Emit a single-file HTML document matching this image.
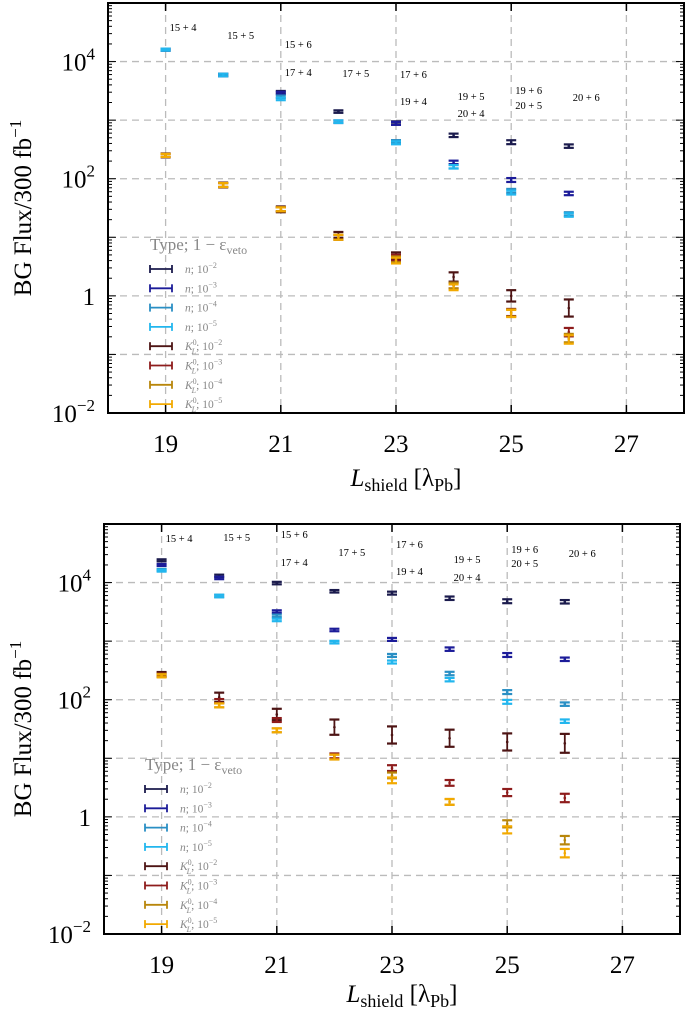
<!DOCTYPE html>
<html><head><meta charset="utf-8">
<style>
html,body{margin:0;padding:0;background:#fff;}
svg{display:block;font-family:"Liberation Serif",serif;}
</style></head>
<body>
<svg id="fig" width="685" height="1010" viewBox="0 0 685 1010" xmlns="http://www.w3.org/2000/svg"></svg>
<script>
// ---- data ----
const xCats = [19,20,21,22,23,24,25,26];
const seriesNames = ["n; 10^-2","n; 10^-3","n; 10^-4","n; 10^-5","K; 10^-2","K; 10^-3","K; 10^-4","K; 10^-5"];
const seriesColors = ["#1b1b4d","#1c1c99","#2a8fc4","#22b6ee","#4d1414","#8e1c1c","#b8860b","#f2a900"];
// top panel values
const topN2 = [16000,5900,3000,1400,900,550,420,360];
const topN3 = [16000,5900,2900,940,880,190,95,56];
const topN4 = [16000,5900,2500,940,430,160,62,25];
const topN5 = [16000,5900,2300,940,410,160,58,24];
const topK2 = [250,78,30,11,4.8,2.1,1.0,0.62];
const topK3 = [250,78,30,10,4.5,1.5,0.52,0.24];
const topK4 = [250,78,30,10,4.2,1.5,0.51,0.19];
const topK5 = [250,78,30,10,4.0,1.4,0.50,0.18];
// bottom panel values
const botN2 = [24000,13000,9800,7100,6600,5400,4800,4700];
const botN3 = [20000,12000,3200,1550,1070,730,580,490];
const botN4 = [16500,5900,2700,960,570,280,135,84];
const botN5 = [16000,5900,2300,960,440,220,92,43];
const botK2 = [270,110,56,34,25,22,19,18];
const botK3 = [265,95,45,11,6.8,3.8,2.6,2.1];
const botK4 = [260,80,30,10.5,5.1,1.8,0.76,0.40];
const botK5 = [255,80,30,10.5,4.2,1.8,0.60,0.24];
// relative errors
const errN = [0.04,0.05,0.05,0.05,0.06,0.07,0.08,0.07];
const errK2top = [0.08,0.1,0.12,0.12,0.15,0.2,0.25,0.4];
const errK2bot = [0.1,0.2,0.25,0.35,0.4,0.4,0.4,0.45];
const errK = [0.06,0.08,0.08,0.1,0.12,0.12,0.15,0.18];
const annLabels = ["15 + 4","15 + 5","15 + 6","17 + 4","17 + 5","17 + 6","19 + 4","19 + 5","20 + 4","19 + 6","20 + 5","20 + 6"];
const annX = [19,20,21,21,22,23,23,24,24,25,25,26];
const yTickVals = [-2,0,2,4];
const xTickVals = [19,21,23,25,27];

const NS="http://www.w3.org/2000/svg";
const svg=document.getElementById('fig');
function el(tag,attrs,parent){const e=document.createElementNS(NS,tag);for(const k in attrs)e.setAttribute(k,attrs[k]);(parent||svg).appendChild(e);return e;}

function panel(P){
  const g=el('g',{});
  
  
  const X=v=>P.l+(v-18)/10*(P.r-P.l);
  const Y=v=>P.b-(Math.log10(v)+2)/7*(P.b-P.t);
  const YL=lg=>P.b-(lg+2)/7*(P.b-P.t);
  for(let lg=-1;lg<=4;lg++){
    const ln=el('line',{x1:P.l,x2:P.r,y1:YL(lg),y2:YL(lg),stroke:'#bbb','stroke-width':1.3,'stroke-dasharray':'7,5'},g);
    
    
  }
  for(const xv of xTickVals){
    const ln=el('line',{x1:X(xv),x2:X(xv),y1:P.t,y2:P.b,stroke:'#bbb','stroke-width':1.3,'stroke-dasharray':'7,5'},g);
    
    
  }
  for(let lg=-2;lg<5;lg++){
    for(let m=1;m<10;m++){
      const y=P.b-(lg+2+Math.log10(m))/7*(P.b-P.t);
      const len=m===1?8:4;
      el('line',{x1:P.l,x2:P.l+len,y1:y,y2:y,stroke:'#000','stroke-width':1},g);
      el('line',{x1:P.r,x2:P.r-len,y1:y,y2:y,stroke:'#000','stroke-width':1},g);
    }
  }
  for(const xv of xTickVals){
    el('line',{x1:X(xv),x2:X(xv),y1:P.b,y2:P.b-8,stroke:'#000','stroke-width':1.5},g);
    el('line',{x1:X(xv),x2:X(xv),y1:P.t,y2:P.t+8,stroke:'#000','stroke-width':1.5},g);
    const t=el('text',{x:X(xv),y:P.b+39,'font-size':25,'text-anchor':'middle'},g);
    t.textContent=xv;
    
    
  }
  for(const lg of yTickVals){
    const t=el('text',{x:P.l-13,y:YL(lg)+9,'font-size':25,'text-anchor':'end'},g);
    
    
    if(lg===0){t.textContent='1';}
    else{t.textContent='10';const s=el('tspan',{dy:-11,'font-size':17},t);s.textContent=String(lg).replace('-','\u2212');}
  }
  annLabels.forEach((s,i)=>{
    const t=el('text',{x:X(annX[i])+4,y:P.annY[i]+4,'font-size':10.5},g);
    t.textContent=s;
    
    
  });
  P.series.forEach((vals,si)=>{
    const sg=el('g',{},g);
    
    
    vals.forEach((v,i)=>{
      const e=P.errs[si][i];
      const x=X(xCats[i]);const y1=Y(v*(1+e)),y2=Y(v/(1+e)),yc=Y(v);
      const c=seriesColors[si];
      const pt=el('g',{stroke:c,'stroke-width':1.8},sg);
      
      
      el('line',{x1:x,x2:x,y1:y1,y2:y2},pt);
      el('line',{x1:x-5,x2:x+5,y1:y1,y2:y1,'stroke-width':2.2},pt);
      el('line',{x1:x-5,x2:x+5,y1:y2,y2:y2,'stroke-width':2.2},pt);
      el('circle',{cx:x,cy:yc,r:1.3,fill:c,stroke:'none'},pt);
    });
  });
  const fr=el('rect',{x:P.l,y:P.t,width:P.r-P.l,height:P.b-P.t,fill:'none',stroke:'#000','stroke-width':2},g);
  
  
  const lg=el('g',{},g);
  
  
  const tt=el('text',{x:P.legX,y:P.legY,'font-size':17,fill:'#888'},lg);
  tt.textContent='Type; 1 \u2212 \u03b5';
  const ts=el('tspan',{dy:4,'font-size':12},tt);ts.textContent='veto';
  seriesNames.forEach((s,i)=>{
    const y=P.legY+19+i*19.3;
    const le=el('g',{},lg);
    
    
    el('line',{x1:P.legX,x2:P.legX+22,y1:y,y2:y,stroke:seriesColors[i],'stroke-width':1.8},le);
    el('line',{x1:P.legX,x2:P.legX,y1:y-4,y2:y+4,stroke:seriesColors[i],'stroke-width':1.8},le);
    el('line',{x1:P.legX+22,x2:P.legX+22,y1:y-4,y2:y+4,stroke:seriesColors[i],'stroke-width':1.8},le);
    const t=el('text',{x:P.legX+35,y:y+4,'font-size':11.5,fill:'#888'},le);
    const isK=s[0]==='K';
    const base=el('tspan',{'font-style':'italic'},t);base.textContent=isK?'K':'n';
    if(isK){const sup=el('tspan',{dy:-5,'font-size':8},t);sup.textContent='0';const sub=el('tspan',{dx:-5,dy:9,'font-size':8,'font-style':'italic'},t);sub.textContent='L';const r=el('tspan',{dy:-4},t);r.textContent='; 10';}
    else{const r=el('tspan',{},t);r.textContent='; 10';}
    const ex=el('tspan',{dy:-5,'font-size':8},t);ex.textContent='\u2212'+s.slice(-1);
  });
  const yl=el('text',{x:0,y:0,'font-size':25,'text-anchor':'middle',transform:`translate(31,${(P.t+P.b)/2}) rotate(-90)`},g);
  
  
  yl.textContent='BG Flux/300 fb';
  const ye=el('tspan',{dy:-10,'font-size':17},yl);ye.textContent='\u22121';
  const xl=el('text',{x:(P.l+P.r)/2+10,y:P.b+P.xlOff,'font-size':25,'text-anchor':'middle'},g);
  
  
  const a=el('tspan',{'font-style':'italic'},xl);a.textContent='L';
  const b=el('tspan',{dy:5,'font-size':18},xl);b.textContent='shield';
  const c=el('tspan',{dy:-5},xl);c.textContent=' [\u03bb';
  const d=el('tspan',{dy:5,'font-size':18},xl);d.textContent='Pb';
  const f=el('tspan',{dy:-5},xl);f.textContent=']';
}

panel({name:'top-panel',l:108,r:684,t:3,b:413,xlOff:73,
  series:[topN2,topN3,topN4,topN5,topK2,topK3,topK4,topK5],
  errs:[errN,errN,errN,errN,errK2top,errK,errK,errK],
  annY:[27,35,44,72,73,74,101,96,113,90,105,97],legX:150,legY:250});
panel({name:'bottom-panel',l:104,r:680,t:524,b:934,xlOff:68,
  series:[botN2,botN3,botN4,botN5,botK2,botK3,botK4,botK5],
  errs:[errN,errN,errN,errN,errK2bot,errK,errK,errK],
  annY:[538,537,534,562,552,544,571,559,577,549,563,553],legX:145,legY:770});
</script>
</body></html>
